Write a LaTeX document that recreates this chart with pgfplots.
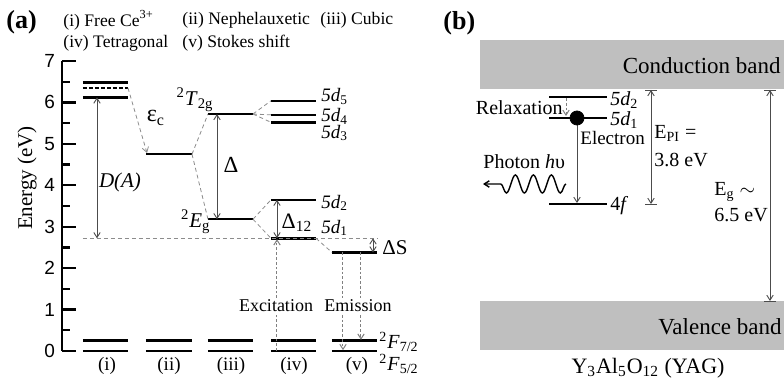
\documentclass[border=0pt]{standalone}
\usepackage{fontspec}
\setmainfont{Liberation Serif}
\setsansfont{Liberation Sans}
\usepackage{pgfplots}
\pgfplotsset{compat=1.18}
\usetikzlibrary{arrows.meta,decorations.pathmorphing}
\newcommand{\fs}[1]{\fontsize{#1}{#1}\selectfont}
\tikzset{
  lev/.style={black, line width=1.2pt},
  con/.style={black!45, dash pattern=on 2pt off 1.5pt, line width=0.4pt},
  arr/.style={black!70, line width=0.45pt},
  dotl/.style={black!50, dash pattern=on 1.4pt off 1pt, line width=0.5pt},
}
\begin{document}
\begin{tikzpicture}[>={Straight Barb[length=2.5pt,width=3.2pt]}]
\useasboundingbox (0,0) rectangle (392pt,189.5pt);
% ---------------- panel (a) ----------------
\begin{axis}[at={(31pt,14pt)}, anchor=south west, scale only axis,
  width=184pt, height=145pt, xmin=62, xmax=430, ymin=0, ymax=7, clip=false,
  axis x line=none, axis y line=left, axis line style={-, line width=1.4pt},
  ytick={0,1,2,3,4,5,6,7}, minor ytick={0.5,1.5,2.5,3.5,4.5,5.5,6.5},
  tick align=inside, major tick length=7pt, minor tick length=4pt,
  tick style={black, line width=1.2pt},
  yticklabel style={font=\sffamily\fs{9.5}},
  /pgf/number format/assume math mode=true]
% levels (i)
\addplot[lev] coordinates {(83,6.48) (128,6.48)};
\addplot[black, line width=0.6pt, dash pattern=on 2pt off 1pt] coordinates {(83,6.35) (128,6.35)};
\addplot[lev] coordinates {(83,6.12) (128,6.12)};
% (ii)
\addplot[lev] coordinates {(146,4.75) (192,4.75)};
% (iii)
\addplot[lev] coordinates {(208,5.72) (253,5.72)};
\addplot[lev] coordinates {(208,3.18) (253,3.18)};
% (iv)
\addplot[lev] coordinates {(271,6.04) (316,6.04)};
\addplot[lev] coordinates {(271,5.70) (316,5.70)};
\addplot[lev] coordinates {(271,5.52) (316,5.52)};
\addplot[lev] coordinates {(271,3.65) (316,3.65)};
\addplot[lev] coordinates {(271,2.72) (316,2.72)};
% (v)
\addplot[lev] coordinates {(332,2.38) (377,2.38)};
% ground levels
\addplot[lev] coordinates {(83,0.25) (128,0.25)};
\addplot[lev] coordinates {(83,0) (128,0)};
\addplot[lev] coordinates {(146,0.25) (192,0.25)};
\addplot[lev] coordinates {(146,0) (192,0)};
\addplot[lev] coordinates {(208,0.25) (253,0.25)};
\addplot[lev] coordinates {(208,0) (253,0)};
\addplot[lev] coordinates {(271,0.25) (316,0.25)};
\addplot[lev] coordinates {(271,0) (316,0)};
\addplot[lev] coordinates {(332,0.25) (377,0.25)};
\addplot[lev] coordinates {(332,0) (377,0)};
% connectors
\addplot[con, ->] coordinates {(128,6.35) (147,4.78)};
\addplot[con] coordinates {(192,4.75) (208,5.72)};
\addplot[con] coordinates {(192,4.75) (208,3.18)};
\addplot[con] coordinates {(253,5.72) (271,6.04)};
\addplot[con] coordinates {(253,5.72) (271,5.70)};
\addplot[con] coordinates {(253,5.72) (271,5.52)};
\addplot[con] coordinates {(253,3.18) (271,3.65)};
\addplot[con] coordinates {(253,3.18) (271,2.72)};
\addplot[con] coordinates {(316,2.72) (332,2.38)};
\addplot[con] coordinates {(83,2.72) (378,2.72)};
% arrows
\addplot[arr, <->] coordinates {(97,6.12) (97,2.72)};
\addplot[arr, <->] coordinates {(217,5.72) (217,3.18)};
\addplot[arr, <->] coordinates {(277,3.65) (277,2.72)};
\addplot[arr, <->] coordinates {(373,2.72) (373,2.38)};
\addplot[dotl, ->] coordinates {(277,0) (277,2.70)};
\addplot[dotl, ->] coordinates {(343,2.38) (343,0.02)};
\addplot[dotl, ->] coordinates {(361,2.38) (361,0.27)};
% labels
\node[font=\fs{10.5}\itshape] at (120,4.08) {D(A)};
\node[font=\fs{12}] at (156,5.63) {ε\textsubscript{c}};
\node[font=\fs{11.5}] at (231,4.49) {Δ};
\node[font=\fs{11}] at (297,3.09) {Δ\textsubscript{12}};
\node[font=\fs{10.5}, anchor=east, inner sep=0pt] at (214,6.06) {\textsuperscript{2}\textit{T}\textsubscript{2g}};
\node[font=\fs{10.5}, anchor=east, inner sep=0pt] at (211,3.12) {\textsuperscript{2}\textit{E}\textsubscript{g}};
\node[font=\fs{9.5}, anchor=west, inner sep=0pt] at (321,6.14) {\textit{5d}\textsubscript{5}};
\node[font=\fs{9.5}, anchor=west, inner sep=0pt] at (321,5.66) {\textit{5d}\textsubscript{4}};
\node[font=\fs{9.5}, anchor=west, inner sep=0pt] at (321,5.26) {\textit{5d}\textsubscript{3}};
\node[font=\fs{9.5}, anchor=west, inner sep=0pt] at (321,3.57) {\textit{5d}\textsubscript{2}};
\node[font=\fs{9.5}, anchor=west, inner sep=0pt] at (321,2.97) {\textit{5d}\textsubscript{1}};
\node[font=\fs{10.5}, anchor=west, inner sep=0pt] at (382,2.50) {ΔS};
\node[font=\fs{9}, fill=white, inner sep=1pt] at (276,1.09) {Excitation};
\node[font=\fs{9}, fill=white, inner sep=1pt] at (358,1.09) {Emission};
\node[font=\fs{10}, anchor=west, inner sep=0pt] at (379,0.22) {\textsuperscript{2}\textit{F}\textsubscript{7/2}};
\node[font=\fs{10}, anchor=west, inner sep=0pt] at (379,-0.31) {\textsuperscript{2}\textit{F}\textsubscript{5/2}};
\node[font=\fs{9.5}] at (107,-0.36) {(i)};
\node[font=\fs{9.5}] at (169,-0.36) {(ii)};
\node[font=\fs{9.5}] at (231,-0.36) {(iii)};
\node[font=\fs{9.5}] at (294,-0.36) {(iv)};
\node[font=\fs{9.5}] at (357,-0.36) {(v)};
\end{axis}
% ---------------- panel (b) and titles (pixel coordinates) ----------------
\begin{axis}[at={(0pt,0pt)}, anchor=south west, scale only axis,
  width=392pt, height=189.5pt, xmin=0, xmax=784, ymin=0, ymax=379,
  y dir=reverse, hide axis, clip=false]
\addplot[fill=black!25, draw=none] coordinates {(480,40) (784,40) (784,89) (480,89)};
\addplot[fill=black!25, draw=none] coordinates {(480,301) (784,301) (784,350) (480,350)};
\addplot[lev] coordinates {(549,97) (607,97)};
\addplot[lev] coordinates {(549,118) (607,118)};
\addplot[lev] coordinates {(549,204) (607,204)};
\addplot[arr, ->] coordinates {(577,118) (577,203)};
\addplot[only marks, mark=*, mark size=3.5pt, black] coordinates {(577,118)};
\addplot[dotl, ->] coordinates {(566,98) (566,116)};
\addplot[arr, <->] coordinates {(651,90) (651,204)};
\addplot[arr] coordinates {(645,90) (657,90)};
\addplot[arr] coordinates {(645,204) (657,204)};
\addplot[arr, <->] coordinates {(770,90) (770,301)};
\addplot[arr] coordinates {(764,90) (776,90)};
\addplot[arr] coordinates {(764,301) (776,301)};
\addplot[black, line width=0.7pt, decorate, decoration={snake, amplitude=4.5pt, segment length=9pt, post length=5pt}, ->] coordinates {(566,184) (483,184)};
% titles
\node[font=\fs{13}\bfseries, anchor=west, inner sep=0pt] at (6,22) {(a)};
\node[font=\fs{13}\bfseries, anchor=west, inner sep=0pt] at (443,23) {(b)};
\node[font=\fs{8.8}, anchor=west, inner sep=0pt] at (63,20) {(i) Free Ce\textsuperscript{3+}};
\node[font=\fs{8.8}, anchor=west, inner sep=0pt] at (182,20) {(ii) Nephelauxetic};
\node[font=\fs{8.8}, anchor=west, inner sep=0pt] at (320,20) {(iii) Cubic};
\node[font=\fs{8.8}, anchor=west, inner sep=0pt] at (63,43) {(iv) Tetragonal};
\node[font=\fs{8.8}, anchor=west, inner sep=0pt] at (182,43) {(v) Stokes shift};
\node[font=\fs{10.5}, rotate=90] at (27,178) {Energy (eV)};
% panel b texts
\node[font=\fs{11.5}, anchor=east, inner sep=0pt] at (781,66) {Conduction band};
\node[font=\fs{11.5}, anchor=east, inner sep=0pt] at (782,327) {Valence band};
\node[font=\fs{11}] at (648,368) {Y\textsubscript{3}Al\textsubscript{5}O\textsubscript{12} (YAG)};
\node[font=\fs{10}, anchor=east, inner sep=0pt] at (563,108) {Relaxation};
\node[font=\fs{10}, anchor=west, inner sep=0pt] at (610,100) {\textit{5d}\textsubscript{2}};
\node[font=\fs{10}, anchor=west, inner sep=0pt] at (610,120) {\textit{5d}\textsubscript{1}};
\node[font=\fs{10}, anchor=west, inner sep=0pt] at (610,206) {4\textit{f}};
\node[font=\fs{9.5}, anchor=west, inner sep=0pt] at (580,138) {Electron};
\node[font=\fs{10}, anchor=west, inner sep=0pt] at (483,162) {Photon \textit{h}υ};
\node[font=\fs{10}, anchor=west, inner sep=0pt] at (654,133) {E\textsubscript{PI} =};
\node[font=\fs{10}, anchor=west, inner sep=0pt] at (654,160) {3.8 eV};
\node[font=\fs{10}, anchor=west, inner sep=0pt] at (714,192) {E\textsubscript{g} $\sim$};
\node[font=\fs{10}, anchor=west, inner sep=0pt] at (714,215) {6.5 eV};
\end{axis}
\end{tikzpicture}
\end{document}
